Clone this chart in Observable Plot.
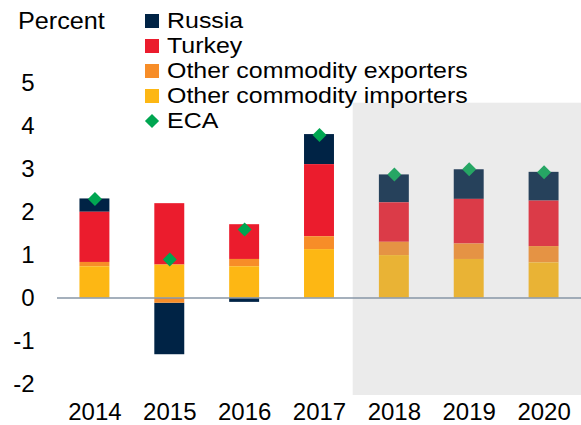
<!DOCTYPE html>
<html>
<head>
<meta charset="utf-8">
<script src="https://cdn.jsdelivr.net/npm/d3@7"></script>
<script src="https://cdn.jsdelivr.net/npm/@observablehq/plot@0.6"></script>
<style>
  html, body { margin: 0; padding: 0; background: #fff; }
  #wrap { position: relative; width: 581px; height: 425px; font-family: "Liberation Sans", Arial, sans-serif; color: #000; }
  #chart { position: absolute; left: 0; top: 0; }
  .unit { position: absolute; left: 18px; top: 9px; font-size: 24px; line-height: 24px; transform: scaleX(1.05); transform-origin: left center; }
  .row { position: absolute; left: 145px; height: 25px; display: flex; align-items: center; }
  .sw { width: 14px; height: 14px; flex: none; }
  .dia { width: 10px; height: 10px; margin: 0 2px; transform: rotate(45deg); flex: none; }
  .lab { margin-left: 7.5px; font-size: 21.5px; line-height: 25px; white-space: nowrap; transform: scaleX(1.16); transform-origin: left center; }
</style>
</head>
<body>
<div id="wrap">
  <div id="chart"></div>
  <div class="unit">Percent</div>
  <div id="legend"></div>
</div>
<script>
// ---- data ----
const years = [2014, 2015, 2016, 2017, 2018, 2019, 2020];
const russia    = [0.31, -1.20, -0.10, 0.70, 0.65, 0.69, 0.67];
const turkey    = [1.17, 1.43, 0.81, 1.68, 0.92, 1.04, 1.06];
const exporters = [0.10, -0.12, 0.17, 0.30, 0.31, 0.36, 0.38];
const importers = [0.73, 0.77, 0.73, 1.13, 0.99, 0.90, 0.82];
const eca       = [2.31, 0.90, 1.60, 3.80, 2.88, 3.00, 2.93];

const seriesNames = ["Russia", "Turkey", "Other commodity exporters", "Other commodity importers"];
const seriesColors = ["#002345", "#eb1c2d", "#f78d28", "#fdb714"];
const ecaColor = "#00a651";
const yTicks = [-2, -1, 0, 1, 2, 3, 4, 5];
const forecastYears = [2017.45, 2020.5];   // shaded forecast band (x extent)
const forecastValues = [-2.27, 4.54];      // shaded forecast band (y extent)

// ---- build tables ----
const seriesValues = [russia, turkey, exporters, importers];
const barData = [];
seriesNames.forEach((name, s) => {
  years.forEach((yr, i) => barData.push({year: yr, series: name, value: seriesValues[s][i]}));
});
const ecaData = years.map((yr, i) => ({year: yr, value: eca[i]}));
const stackOrder = ["Other commodity importers", "Other commodity exporters", "Turkey", "Russia"];

const chart = Plot.plot({
  width: 581,
  height: 425,
  marginLeft: 57,
  marginRight: 0,
  marginTop: 83,
  marginBottom: 30,
  style: {fontFamily: "'Liberation Sans', Arial, sans-serif", fontSize: "24px", color: "#000", background: "transparent"},
  x: {domain: [2013.5, 2020.5], ticks: years, tickFormat: d => String(d), tickSize: 0, tickPadding: 7, label: null},
  y: {domain: [-2.27, 5], ticks: yTicks, tickFormat: d => String(d), tickSize: 0, tickPadding: 23, label: null},
  color: {domain: seriesNames, range: seriesColors},
  marks: [
    Plot.rectY(barData, Plot.stackY({
      x: "year",
      x1: d => d.year - 0.2,
      x2: d => d.year + 0.2,
      y: "value",
      fill: "series",
      order: stackOrder
    })),
    Plot.dot(ecaData, {x: "year", y: "value", symbol: "diamond2", r: 6.3, fill: ecaColor}),
    Plot.rect([0], {x1: forecastYears[0], x2: forecastYears[1], y1: forecastValues[0], y2: forecastValues[1], fill: "#a8a8a8", fillOpacity: 0.226}),
    Plot.ruleY([0], {stroke: "#8796a6", strokeWidth: 1.5})
  ]
});
document.getElementById("chart").appendChild(chart);

// ---- legend ----
const legend = document.getElementById("legend");
const rowCenters = [21, 46, 71, 96, 121];
seriesNames.forEach((name, i) => {
  const row = document.createElement("div");
  row.className = "row";
  row.style.top = (rowCenters[i] - 12.5) + "px";
  row.innerHTML = `<div class="sw" style="background:${seriesColors[i]}"></div><div class="lab">${name}</div>`;
  legend.appendChild(row);
});
const ecaRow = document.createElement("div");
ecaRow.className = "row";
ecaRow.style.top = (rowCenters[4] - 12.5) + "px";
ecaRow.innerHTML = `<div class="dia" style="background:${ecaColor}"></div><div class="lab">ECA</div>`;
legend.appendChild(ecaRow);
</script>
</body>
</html>
